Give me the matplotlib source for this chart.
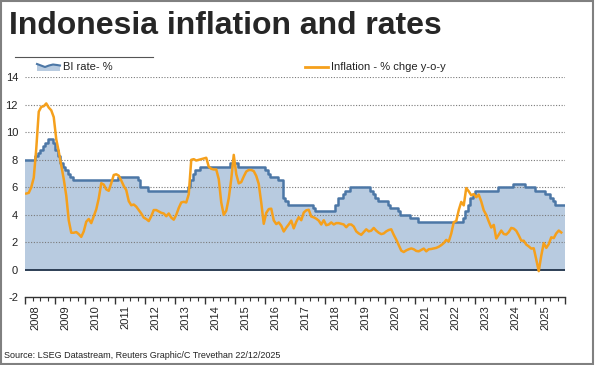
import numpy as np
import matplotlib
matplotlib.use("Agg")
import matplotlib.pyplot as plt
from matplotlib.transforms import blended_transform_factory
from matplotlib.patches import Rectangle, Polygon
from matplotlib.lines import Line2D

plt.rcParams['font.family'] = ['Liberation Sans', 'DejaVu Sans']

# ---------------- data ----------------
start_year = 2008
years = list(range(2008, 2026))

# Monthly BI policy rate (%), Jan 2008 .. Dec 2025
bi_2008 = [8.0, 8.0, 8.0, 8.0, 8.25, 8.5, 8.75, 9.0, 9.25, 9.5, 9.5, 9.25]
bi_2009 = [8.75, 8.25, 7.75, 7.5, 7.25, 7.0, 6.75, 6.5, 6.5, 6.5, 6.5, 6.5]
bi_2010 = [6.5] * 12
bi_2011 = [6.5, 6.75, 6.75, 6.75, 6.75, 6.75, 6.75, 6.75, 6.75, 6.5, 6.0, 6.0]
bi_2012 = [6.0] + [5.75] * 11
bi_2013 = [5.75, 5.75, 5.75, 5.75, 5.75, 6.0, 6.5, 7.0, 7.25, 7.25, 7.5, 7.5]
bi_2014 = [7.5] * 10 + [7.75, 7.75]
bi_2015 = [7.75] + [7.5] * 11
bi_2016 = [7.25, 7.0, 6.75, 6.75, 6.75, 6.5, 6.5, 5.25, 5.0, 4.75, 4.75, 4.75]
bi_2017 = [4.75] * 7 + [4.5, 4.25, 4.25, 4.25, 4.25]
bi_2018 = [4.25, 4.25, 4.25, 4.25, 4.75, 5.25, 5.25, 5.5, 5.75, 5.75, 6.0, 6.0]
bi_2019 = [6.0] * 6 + [5.75, 5.5, 5.25, 5.0, 5.0, 5.0]
bi_2020 = [5.0, 4.75, 4.5, 4.5, 4.5, 4.25, 4.0, 4.0, 4.0, 4.0, 3.75, 3.75]
bi_2021 = [3.75] + [3.5] * 11
bi_2022 = [3.5] * 7 + [3.75, 4.25, 4.75, 5.25, 5.5]
bi_2023 = [5.75] * 9 + [6.0, 6.0, 6.0]
bi_2024 = [6.0] * 3 + [6.25] * 5 + [6.0] * 4
bi_2025 = [5.75] * 4 + [5.5, 5.5, 5.25, 5.0, 4.75, 4.75, 4.75, 4.75]

# Monthly CPI inflation, % y/y, Jan 2008 .. Nov 2025
inf_2008 = [5.55, 5.6, 6.0, 6.7, 8.8, 11.5, 11.85, 11.9, 12.1, 11.8, 11.6, 11.1]
inf_2009 = [9.5, 8.6, 7.6, 6.6, 5.4, 3.6, 2.7, 2.7, 2.75, 2.6, 2.4, 2.8]
inf_2010 = [3.5, 3.7, 3.4, 3.9, 4.4, 5.2, 6.3, 6.2, 5.85, 5.75, 6.3, 6.9]
inf_2011 = [6.95, 6.85, 6.5, 6.1, 5.8, 5.0, 4.7, 4.75, 4.6, 4.35, 4.1, 3.8]
inf_2012 = [3.7, 3.55, 3.9, 4.35, 4.35, 4.25, 4.15, 4.1, 3.9, 4.1, 3.8, 3.65]
inf_2013 = [4.0, 4.5, 4.9, 4.95, 4.9, 5.5, 8.0, 8.05, 7.95, 8.0, 8.05, 8.1]
inf_2014 = [8.15, 7.5, 7.35, 7.3, 7.3, 6.6, 4.9, 4.0, 4.3, 5.2, 6.6, 8.36]
inf_2015 = [6.96, 6.29, 6.38, 6.79, 7.15, 7.26, 7.26, 7.18, 6.83, 6.25, 4.89, 3.35]
inf_2016 = [4.14, 4.42, 4.45, 3.60, 3.33, 3.45, 3.21, 2.79, 3.07, 3.31, 3.58, 3.02]
inf_2017 = [3.49, 3.83, 3.61, 4.17, 4.33, 4.37, 3.88, 3.82, 3.72, 3.58, 3.30, 3.61]
inf_2018 = [3.25, 3.3, 3.45, 3.3, 3.4, 3.4, 3.35, 3.3, 3.1, 3.3, 3.3, 3.15]
inf_2019 = [2.8, 2.65, 2.55, 2.75, 2.95, 2.8, 2.85, 3.05, 2.85, 2.7, 2.6, 2.65]
inf_2020 = [2.8, 2.9, 2.95, 2.55, 2.2, 1.8, 1.4, 1.3, 1.42, 1.5, 1.56, 1.5]
inf_2021 = [1.38, 1.35, 1.45, 1.55, 1.35, 1.5, 1.52, 1.56, 1.6, 1.68, 1.8, 1.95]
inf_2022 = [2.18, 2.06, 2.64, 3.47, 3.55, 4.35, 4.94, 4.69, 5.95, 5.71, 5.42, 5.51]
inf_2023 = [5.28, 5.47, 4.97, 4.33, 4.00, 3.52, 3.08, 3.27, 2.28, 2.56, 2.86, 2.61]
inf_2024 = [2.57, 2.75, 3.05, 3.00, 2.84, 2.51, 2.13, 2.12, 1.84, 1.71, 1.55, 1.57]
inf_2025 = [0.76, -0.09, 1.03, 1.95, 1.60, 1.87, 2.37, 2.31, 2.65, 2.86, 2.72]

bi_rate = (bi_2008 + bi_2009 + bi_2010 + bi_2011 + bi_2012 + bi_2013 + bi_2014 +
           bi_2015 + bi_2016 + bi_2017 + bi_2018 + bi_2019 + bi_2020 + bi_2021 +
           bi_2022 + bi_2023 + bi_2024 + bi_2025)
inflation = (inf_2008 + inf_2009 + inf_2010 + inf_2011 + inf_2012 + inf_2013 +
             inf_2014 + inf_2015 + inf_2016 + inf_2017 + inf_2018 + inf_2019 +
             inf_2020 + inf_2021 + inf_2022 + inf_2023 + inf_2024 + inf_2025)

y_ticks = [-2, 0, 2, 4, 6, 8, 10, 12, 14]

title = "Indonesia inflation and rates"
legend_bi = "BI rate- %"
legend_inf = "Inflation - % chge y-o-y"
source = "Source: LSEG Datastream, Reuters Graphic/C Trevethan 22/12/2025"

# ---------------- styling ----------------
W, H = 595, 365
FILL = '#b8cbe0'
EDGE = '#4c77a6'
ORANGE = '#f5a01c'
TXT = '#222222'


def fx(px):
    return px / W


def fy(py):
    return 1 - py / H


fig = plt.figure(figsize=(W / 100, H / 100), dpi=100)
fig.patch.set_facecolor('white')

ax_l, ax_r, ax_t, ax_b = 25, 565, 77.3, 297.4
ax = fig.add_axes([fx(ax_l), fy(ax_b), fx(ax_r) - fx(ax_l), fy(ax_t) - fy(ax_b)])
ax.set_facecolor('none')

# x positions
bi_x = start_year + np.arange(len(bi_rate) + 1) / 12.0
bi_y = np.append(bi_rate, bi_rate[-1])
inf_x = start_year + (np.arange(len(inflation)) + 0.5) / 12.0

ax.fill_between(bi_x, bi_y, 0, step='post', color=FILL, lw=0, zorder=1)

# gridlines
for v in y_ticks:
    if v in (-2, 0):
        continue
    ax.axhline(v, color='#7a7a7a', lw=0.8, ls=(0, (1, 1.5)), zorder=2)
ax.axhline(0, color='#2c3e55', lw=1.4, zorder=3)

ax.step(bi_x, bi_y, where='post', color=EDGE, lw=1.8, zorder=4)
ax.plot(inf_x, inflation, color=ORANGE, lw=1.8, zorder=5, solid_joinstyle='round')

ax.set_xlim(2008, 2026)
ax.set_ylim(-2, 14)

for s in ('top', 'right', 'left'):
    ax.spines[s].set_visible(False)
ax.spines['bottom'].set_color('#333333')
ax.spines['bottom'].set_linewidth(1.0)

ax.set_yticks(y_ticks)
ax.set_yticklabels([str(v) for v in y_ticks], fontsize=8, color=TXT)
ax.tick_params(axis='y', length=0, pad=5)

ax.set_xticks(list(years) + [2026])
ax.set_xticklabels([])
ax.set_xticks(np.arange(2008, 2026, 0.25), minor=True)
ax.tick_params(axis='x', which='major', length=5, width=1, color='#333333', direction='out')
ax.tick_params(axis='x', which='minor', length=3, width=0.8, color='#333333', direction='out')

trans = blended_transform_factory(ax.transData, ax.transAxes)
for yr in years:
    ax.text(yr + 0.35, -0.035, str(yr), transform=trans, rotation=90,
            ha='center', va='top', fontsize=8, color=TXT)

# title
fig.text(fx(9), fy(26), title, fontsize=23, fontweight='bold', color='#262626',
         ha='left', va='center')

# line above legend
fig.add_artist(Line2D([fx(15), fx(153)], [fy(57), fy(57)], color='#555555', lw=0.8))

# BI legend glyph (area-like)
gx = [37, 41, 45, 49, 53, 57, 60]
gy = [64, 65.5, 67, 65.5, 64.5, 65, 65.5]
poly_pts = [(fx(a), fy(b)) for a, b in zip(gx, gy)] + [(fx(60), fy(71)), (fx(37), fy(71))]
fig.add_artist(Polygon(poly_pts, closed=True, facecolor=FILL, edgecolor='none'))
fig.add_artist(Line2D([fx(a) for a in gx], [fy(b) for b in gy], color=EDGE, lw=1.5))
fig.text(fx(63), fy(67), legend_bi, fontsize=8, color=TXT, ha='left', va='center')

# inflation legend
fig.add_artist(Line2D([fx(305), fx(328)], [fy(67), fy(67)], color=ORANGE, lw=2))
fig.text(fx(331), fy(67), legend_inf, fontsize=8, color=TXT, ha='left', va='center')

# source
fig.text(fx(4), fy(356), source, fontsize=6.5, color=TXT, ha='left', va='center')

# border
fig.add_artist(Rectangle((0.001, 0.002), 0.996, 0.995, transform=fig.transFigure,
                         fill=False, edgecolor='#808080', lw=1.5))

fig.savefig('out.png', dpi=100)
